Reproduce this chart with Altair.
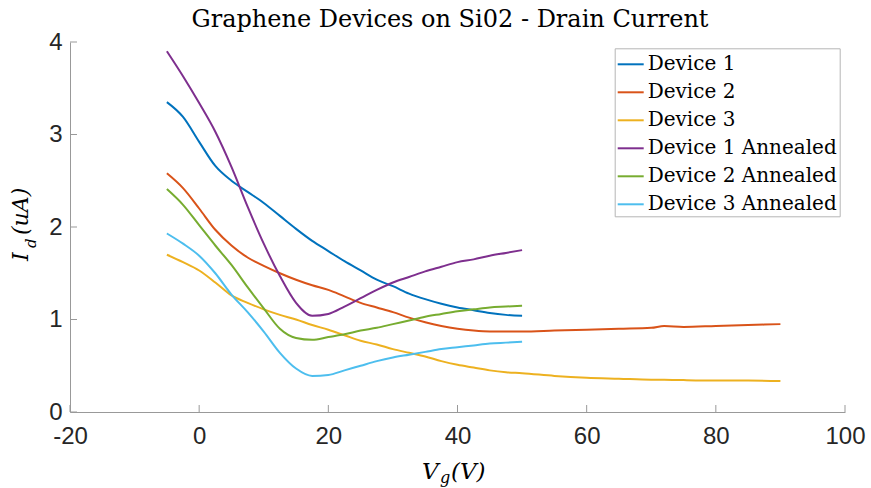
import altair as alt
import pandas as pd

# ---------------- data ----------------
x_short = [-5, -2.5, 0, 2.5, 5, 7.5, 10, 12.5, 15, 17.5, 20, 22.5, 25, 27.5, 30,
           32.5, 35, 37.5, 40, 42.5, 45, 47.5, 50]
x_long = x_short + [55, 60, 65, 70, 72, 75, 80, 85, 90]

dev1 = [3.35, 3.19, 2.92, 2.66, 2.50, 2.38, 2.26, 2.12, 1.98, 1.85, 1.74, 1.63, 1.53,
        1.43, 1.36, 1.28, 1.22, 1.17, 1.13, 1.10, 1.07, 1.05, 1.04]
dev2 = [2.58, 2.42, 2.20, 1.97, 1.80, 1.67, 1.58, 1.50, 1.43, 1.37, 1.32, 1.25, 1.18,
        1.13, 1.08, 1.02, 0.97, 0.93, 0.90, 0.88, 0.87, 0.87, 0.87,
        0.88, 0.89, 0.90, 0.91, 0.93, 0.92, 0.93, 0.94, 0.95]
dev3 = [1.70, 1.62, 1.53, 1.40, 1.26, 1.18, 1.11, 1.05, 1.00, 0.94, 0.89, 0.83, 0.77,
        0.73, 0.68, 0.64, 0.60, 0.55, 0.51, 0.48, 0.45, 0.43, 0.42,
        0.39, 0.37, 0.36, 0.35, 0.35, 0.345, 0.34, 0.34, 0.335]
dev1_ann = [3.90, 3.63, 3.34, 3.03, 2.65, 2.22, 1.82, 1.47, 1.18, 1.04, 1.06, 1.14, 1.23,
            1.32, 1.40, 1.46, 1.52, 1.57, 1.62, 1.65, 1.69, 1.72, 1.75]
dev2_ann = [2.41, 2.24, 2.02, 1.80, 1.59, 1.35, 1.12, 0.90, 0.80, 0.78, 0.81, 0.84, 0.88,
            0.91, 0.95, 0.99, 1.03, 1.06, 1.09, 1.11, 1.13, 1.14, 1.15]
dev3_ann = [1.93, 1.82, 1.69, 1.50, 1.27, 1.08, 0.87, 0.64, 0.47, 0.39, 0.40, 0.45, 0.50,
            0.55, 0.59, 0.62, 0.65, 0.68, 0.70, 0.72, 0.74, 0.75, 0.76]

series_names = ["Device 1", "Device 2", "Device 3",
                "Device 1 Annealed", "Device 2 Annealed", "Device 3 Annealed"]
series_colors = ["#0072BD", "#D95319", "#EDB120", "#7E2F8E", "#77AC30", "#4DBEEE"]

x_ticks = [-20, 0, 20, 40, 60, 80, 100]
y_ticks = [0, 1, 2, 3, 4]

title_text = ["Graphene Devices on Si02 - Drain Current"]
ylab_main = ["I"]
ylab_sub = ["d"]
ylab_rest = ["(uA)"]
xlab_main = ["V"]
xlab_sub = ["g"]
xlab_rest = ["(V)"]

# ---------------- build table ----------------
rows = []
for name, xs, ys in [("Device 1", x_short, dev1), ("Device 2", x_long, dev2),
                     ("Device 3", x_long, dev3), ("Device 1 Annealed", x_short, dev1_ann),
                     ("Device 2 Annealed", x_short, dev2_ann),
                     ("Device 3 Annealed", x_short, dev3_ann)]:
    for i, (xv, yv) in enumerate(zip(xs, ys)):
        rows.append({"Vg": xv, "Id": yv, "series": name, "order": i})
df = pd.DataFrame(rows)

W, H = 775, 370

xscale = alt.Scale(domain=[-20, 100], nice=False, zero=False)
yscale = alt.Scale(domain=[0, 4], nice=False, zero=False)

xaxis = alt.Axis(values=x_ticks, title=None, grid=False, ticks=False, tickSize=0,
                 labelFont="Liberation Sans", labelFontSize=24, labelColor="#262626",
                 labelPadding=12, domainColor="#999999", domainWidth=1, labelFlush=False,
                 labelExpr="'' + datum.value")
yaxis = alt.Axis(values=y_ticks, title=None, grid=False, ticks=False, tickSize=0,
                 labelFont="Liberation Sans", labelFontSize=24, labelColor="#262626",
                 labelPadding=8, domainColor="#999999", domainWidth=1, labelFlush=False,
                 labelExpr="'' + datum.value")

lines = alt.Chart(df).mark_line(strokeWidth=2, interpolate="monotone").encode(
    x=alt.X("Vg:Q", scale=xscale, axis=xaxis),
    y=alt.Y("Id:Q", scale=yscale, axis=yaxis),
    order="order:Q",
    color=alt.Color("series:N", sort=series_names,
                    scale=alt.Scale(domain=series_names, range=series_colors),
                    legend=alt.Legend(title=None, orient="none", legendX=544.7, legendY=6.3,
                                      strokeColor="#b5b5b5", fillColor="white", padding=2,
                                      symbolType="stroke", symbolSize=676,
                                      symbolStrokeWidth=2, labelFont="DejaVu Serif",
                                      labelFontSize=20, labelColor="black", labelLimit=400,
                                      rowPadding=4, labelOffset=3)),
)

xt = alt.Chart(pd.DataFrame({"v": x_ticks})).mark_rule(color="#999999", strokeWidth=1).encode(
    x=alt.X("v:Q", scale=xscale, axis=xaxis), y=alt.value(H), y2=alt.value(H - 7))
yt = alt.Chart(pd.DataFrame({"v": y_ticks})).mark_rule(color="#999999", strokeWidth=1).encode(
    y=alt.Y("v:Q", scale=yscale, axis=yaxis), x=alt.value(0), x2=alt.value(7))


def txt(vals, x, y, size, style="normal", angle=0, font="DejaVu Serif", align="left"):
    return alt.Chart(pd.DataFrame({"t": vals})).mark_text(
        font=font, fontSize=size, fontStyle=style, angle=angle, align=align,
        baseline="alphabetic", color="black").encode(
        text="t:N", x=alt.value(x), y=alt.value(y))


title = txt(title_text, 380, -15, 24, align="center")
yl1 = txt(ylab_main, -42, 219, 22, "italic", 270)
yl2 = txt(ylab_sub, -34, 206, 15, "italic", 270)
yl3 = txt(ylab_rest, -42, 193, 22, "italic", 270)
xl1 = txt(xlab_main, 352, 437, 23, "italic")
xl2 = txt(xlab_sub, 370, 441, 16, "italic")
xl3 = txt(xlab_rest, 381, 437, 23, "italic")

chart = alt.layer(lines, xt, yt, title, yl1, yl2, yl3, xl1, xl2, xl3).resolve_scale(
    color="independent").properties(
    width=W, height=H, autosize="none",
    padding={"left": 70, "top": 42, "right": 26, "bottom": 76},
).configure_view(stroke=None)

chart.save("out.html", embed_options={"renderer": "svg", "actions": False})
